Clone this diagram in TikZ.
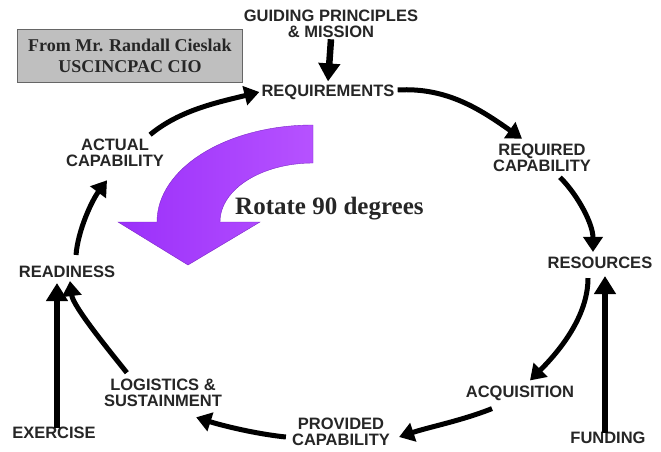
\documentclass[tikz,border=0pt]{standalone}
\usepackage{fontspec}
\setmainfont{Liberation Serif}
\newfontfamily\labfont{Liberation Sans}
\usetikzlibrary{arrows.meta}
\definecolor{violetA}{RGB}{155,48,250}
\definecolor{violetB}{RGB}{182,82,255}
\begin{document}
\begin{tikzpicture}[x=1pt,y=-1pt,
  lab/.style={font=\labfont\bfseries\fontsize{16.5}{16.5}\selectfont, text=black!85, align=center, inner sep=1pt},
  cyc/.style={line width=5pt, -{Triangle[width=19pt,length=15pt]}},
  straightarr/.style={line width=6.5pt, -{Triangle[width=21pt,length=18pt]}},
]
\useasboundingbox (0,0) rectangle (661,452);
\fill[white] (0,0) rectangle (661,452);

% source box
\node[draw=black!60, line width=1pt, fill=black!25, minimum width=225pt, minimum height=52pt,
      font=\bfseries\fontsize{18}{21}\selectfont, text=black!85, align=center] (src) at (130,56)
      {From Mr. Randall Cieslak\\USCINCPAC CIO};

% purple rotate arrow
\shade[left color=violetA, right color=violetB, draw=violetA!80!black, line width=0.4pt]
  (313,125) .. controls (227,125) and (157,168) .. (157,222)
  -- (118,222) -- (188,265) -- (260,222) -- (220,222)
  .. controls (220,189) and (262,163) .. (313,163) -- cycle;
\node[font=\bfseries\fontsize{25}{25}\selectfont, text=black!85, anchor=base west, inner sep=0pt] (rot) at (235,214) {Rotate 90 degrees};

% labels
\node[lab] (guide) at (331,24) {GUIDING PRINCIPLES\\\& MISSION};
\node[lab] (req) at (328,92) {REQUIREMENTS};
\node[lab] (reqcap) at (542,158) {REQUIRED\\CAPABILITY};
\node[lab] (res) at (600,263) {RESOURCES};
\node[lab] (acq) at (520,393) {ACQUISITION};
\node[lab] (fund) at (608,438) {FUNDING};
\node[lab] (prov) at (341,432) {PROVIDED\\CAPABILITY};
\node[lab] (log) at (163,393) {LOGISTICS \&\\SUSTAINMENT};
\node[lab] (exer) at (54,433) {EXERCISE};
\node[lab] (ready) at (67,272) {READINESS};
\node[lab] (actcap) at (115,153) {ACTUAL\\CAPABILITY};

% straight arrows
\draw[straightarr] (guide.south) -- ([yshift=2pt]req.north);
\draw[straightarr] ([xshift=-3pt,yshift=-2pt]fund.north) -- ([xshift=5pt,yshift=-6pt]res.south);
\draw[straightarr] ([xshift=3pt,yshift=-2pt]exer.north) -- ([xshift=-10pt,yshift=-4pt]ready.south);

% cycle arrows
\draw[cyc] ([xshift=-15pt,yshift=3pt]actcap.north east) .. controls +(30,-25) and +(-40,10) .. ([xshift=-1pt]req.west);
\draw[cyc] ([xshift=2pt,yshift=2pt]req.east) .. controls +(50,-3) and +(-40,-28) .. ([xshift=-20pt,yshift=4pt]reqcap.north);
\draw[cyc] ([xshift=18pt,yshift=-4pt]reqcap.south) .. controls +(18,18) and +(0,-28) .. ([xshift=-7pt,yshift=4pt]res.north);
\draw[cyc] ([xshift=-12pt,yshift=-8pt]res.south) .. controls +(0,38) and +(30,-30) .. ([xshift=10pt,yshift=4pt]acq.north);
\draw[cyc] ([xshift=-28pt,yshift=-7pt]acq.south) .. controls +(-30,12) and +(30,-10) .. ([xshift=8pt,yshift=-5pt]prov.east);
\draw[cyc] ([xshift=-5pt,yshift=-5pt]prov.west) .. controls +(-30,-3) and +(25,8) .. ([xshift=-27pt,yshift=-9pt]log.south east);
\draw[cyc] ([xshift=24pt,yshift=5pt]log.north west) .. controls +(-20,-25) and +(3,25) .. ([xshift=3pt,yshift=-2pt]ready.south);
\draw[cyc] ([xshift=9pt,yshift=10pt]ready.north) .. controls +(2,-25) and +(-15,20) .. ([xshift=-8pt,yshift=-12pt]actcap.south);
\end{tikzpicture}
\end{document}
